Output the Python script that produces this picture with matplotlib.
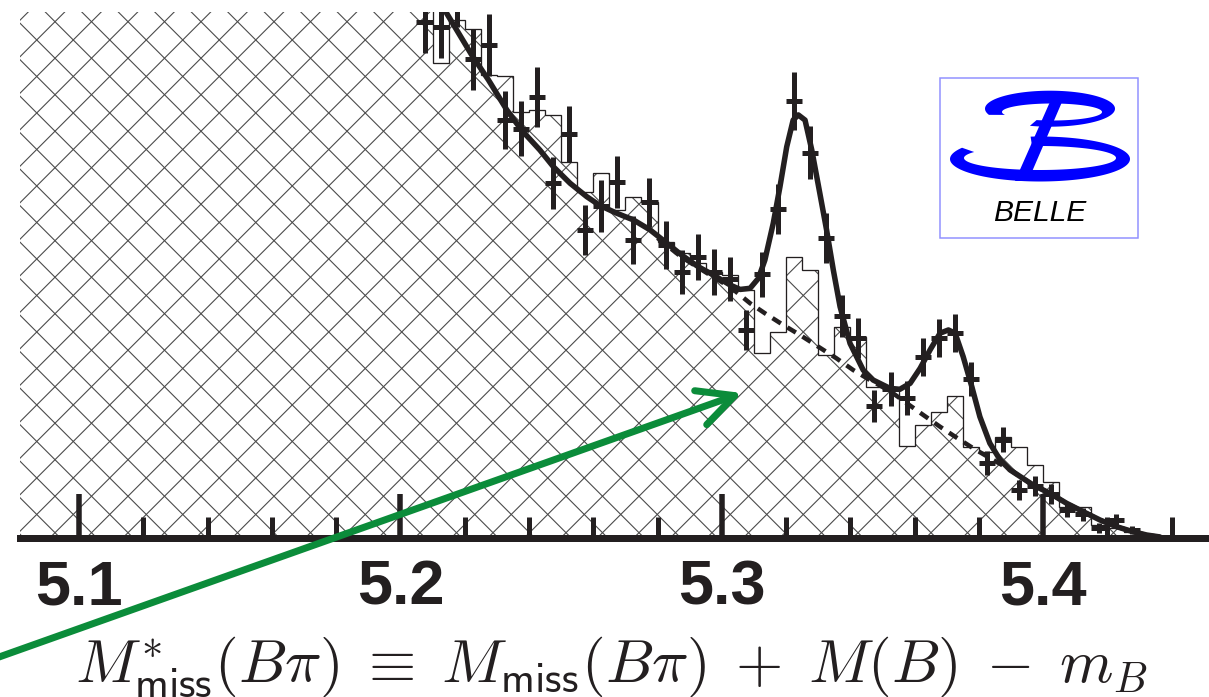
import numpy as np
import matplotlib
matplotlib.use("Agg")
import matplotlib.pyplot as plt
import matplotlib.transforms as mtransforms
from matplotlib.patches import Rectangle, Polygon
from matplotlib.collections import LineCollection
from matplotlib.ticker import FixedLocator

DPI = 110
W, H = 1209, 697


def pt(px):
    return px * 72.0 / DPI


# ---------------- data ----------------
bin_lo = 5.075          # GeV, first histogram edge
bin_width = 0.005       # GeV

# MC histogram (events / 5 MeV), bins from 5.075 to 5.440
hist_counts = [560, 548, 536, 524, 512, 500, 488, 476, 465, 454, 443, 432, 421,
               410, 400, 390, 380, 370, 360, 350, 340, 330, 320, 310, 300, 290,
               278,
               247, 269.5, 264.8, 240.9, 240.4, 221.6, 222.7, 220.1, 195.6, 180.1,
               190.0, 170.6, 177.5, 174.7, 153.9, 148.2, 143.0, 138.4, 136.7, 128.9,
               96.1, 107.2, 146.3, 139.3, 95.1, 109.8, 104.4, 78.5, 77.9, 47.8,
               58.6, 65.5, 73.7, 47.1, 44.5, 52.3, 47.3, 37.8, 29.1, 16.0,
               16.0, 6.5, 4.9, 2.9, 1.3, 0.0]

# data points, first bin centre 5.2075
data_first = 5.2075
data_counts = [268.5, 266, 283, 249, 256.5, 217.5, 213, 229.5, 184.5, 210,
               160, 172.5, 185, 155, 174.5, 152.5, 138.5, 146, 138.5, 134.5,
               108, 137, 171, 227.5, 200.5, 156, 115.5, 104, 68.5, 77.5,
               72.5, 94, 104, 106.5, 82.5, 39, 51, 24.5, 27, 22.5,
               14.5, 12, 5, 9, 4]
data_errors = [16, 16.5, 17, 16, 16, 15, 14.5, 15.5, 13.5, 14.5,
               13, 13.5, 13.5, 12.5, 13, 12.5, 11.5, 12, 12, 11.5,
               10.4, 11.5, 13, 15, 14, 13, 11, 10.4, 8.3, 8.9,
               8.9, 9.9, 9.9, 9.9, 8.9, 6.3, 6.3, 5.2, 5.2, 5.2,
               3.6, 3.6, 2.6, 3.5, 2.0]

# total fit curve
fit_mass = [5.2092, 5.2144, 5.2222, 5.2274, 5.2331, 5.2377, 5.2434, 5.2476, 5.2528,
            5.2580, 5.2621, 5.2673, 5.2725, 5.2777, 5.2823, 5.2875, 5.2927, 5.2974,
            5.3026, 5.3057, 5.3088, 5.3114, 5.3134, 5.3160, 5.3181, 5.3202, 5.3222,
            5.3238, 5.3259, 5.3280, 5.3305, 5.3326, 5.3347, 5.3368, 5.3399, 5.3440,
            5.3471, 5.3523, 5.3554, 5.3586, 5.3617, 5.3648, 5.3679, 5.3705, 5.3726,
            5.3751, 5.3778, 5.3803, 5.3834, 5.3866, 5.3897, 5.3969, 5.4021, 5.4073,
            5.4125, 5.4177, 5.4229, 5.4280, 5.4322, 5.4363]
fit_counts = [290, 273.0, 251.3, 238.3, 222.7, 212.2, 201.8, 193.1, 184.5,
              177.5, 172.9, 168.9, 165.4, 160.2, 154.1, 147.1, 141.0, 136.7,
              131.5, 129.2, 129.8, 135.0, 144.5, 163.6, 182.7, 203.5, 217.4,
              220.1, 217.4, 201.8, 179.3, 160.2, 139.3, 120.2, 101.1, 87.2,
              82.0, 77.7, 77.2, 80.3, 88.1, 97.7, 106.4, 108.1, 106.4,
              94.2, 78.5, 62.9, 49.1, 40.4, 35.2, 27.3, 23.0, 17.8,
              13.4, 9.1, 5.6, 3.0, 1.3, 0.3]

# background component of the fit
bkg_mass = [5.2800, 5.2875, 5.2975, 5.3026, 5.3088, 5.3134, 5.3191, 5.3243, 5.3300,
            5.3357, 5.3409, 5.3461, 5.3523, 5.3570, 5.3627, 5.3679, 5.3726, 5.3782,
            5.3834, 5.3881, 5.3897, 5.3969, 5.4021, 5.4073, 5.4125, 5.4177, 5.4229,
            5.4280, 5.4322, 5.4363]
bkg_counts = [156, 146, 135.5, 130.5, 122.0, 116.8, 110.7, 105.5, 99.4,
              93.3, 87.2, 82.0, 76.3, 70.6, 63.8, 57.7, 52.5, 46.5,
              41.4, 36.9, 35.2, 27.3, 23.0, 17.8, 13.4, 9.1, 5.6,
              3.0, 1.3, 0.3]

major_ticks = [5.1, 5.2, 5.3, 5.4]
major_labels = ["5.1", "5.2", "5.3", "5.4"]
minor_ticks = [5.12, 5.14, 5.16, 5.18, 5.22, 5.24, 5.26, 5.28, 5.32, 5.34,
               5.36, 5.38, 5.42, 5.44]

formula = (r"$M^{*}_{\mathsf{miss}}(B\pi)\;\equiv\;M_{\mathsf{miss}}(B\pi)"
           r"\;+\;M(B)\;-\;m_{B}$")
logo_text = "BELLE"

# ---------------- style ----------------
INK = "#231f20"
plt.rcParams["mathtext.fontset"] = "cm"

X0_PX, Y_AXIS_PX, Y_TOP_PX = 20, 537.5, 12
X51_PX, PX_PER_GEV, PX_PER_EVT = 79, 3214.0, 1.92

fig = plt.figure(figsize=(W / DPI, H / DPI), dpi=DPI)
px_tr = mtransforms.Affine2D().scale(1.0 / W, -1.0 / H).translate(0, 1) + fig.transFigure

ax = fig.add_axes([X0_PX / W, (H - Y_AXIS_PX) / H, (W - X0_PX) / W,
                   (Y_AXIS_PX - Y_TOP_PX) / H])
ax.set_xlim(5.1 + (X0_PX - X51_PX) / PX_PER_GEV, 5.1 + (W - X51_PX) / PX_PER_GEV)
ax.set_ylim(0, (Y_AXIS_PX - Y_TOP_PX) / PX_PER_EVT)

edges = bin_lo + bin_width * np.arange(len(hist_counts) + 1)

# cross-hatch: diagonal lines in pixel space, clipped to the histogram area
area = ax.stairs(hist_counts, edges, fill=True, facecolor="none",
                 edgecolor="none", linewidth=0, zorder=0.5)
HATCH_STEP = 36.5
segs = []
for c in np.arange(33.3 - 40 * HATCH_STEP, W + 1, HATCH_STEP):      # x - y = c
    segs.append([(c, 0), (c + H, H)])
for c in np.arange(76.7 - 10 * HATCH_STEP, W + H + HATCH_STEP, HATCH_STEP):  # x + y = c
    segs.append([(c, 0), (c - H, H)])
hatch = LineCollection(segs, colors="#4a4a4a", linewidths=pt(1.1),
                       transform=px_tr, zorder=1)
ax.add_collection(hatch, autolim=False)
hatch.set_clip_path(area)

ax.stairs(hist_counts, edges, color=INK, linewidth=pt(1.3), zorder=2)

data_x = data_first + bin_width * np.arange(len(data_counts))
ax.errorbar(data_x, data_counts, xerr=bin_width / 2, yerr=data_errors, fmt="none",
            ecolor=INK, elinewidth=pt(5), capsize=0, zorder=3)

ax.plot(bkg_mass, bkg_counts, color=INK, linewidth=pt(4.5), dashes=(2.2, 1.7),
        dash_capstyle="butt", zorder=4)
ax.plot(fit_mass, fit_counts, color=INK, linewidth=pt(5.5),
        solid_joinstyle="round", solid_capstyle="round", zorder=5)

for s in ("top", "left", "right"):
    ax.spines[s].set_visible(False)
ax.spines["bottom"].set_linewidth(pt(7))
ax.spines["bottom"].set_color(INK)
ax.spines["bottom"].set_zorder(6)
ax.set_yticks([])
ax.set_xticks(major_ticks)
ax.set_xticklabels(major_labels)
ax.xaxis.set_minor_locator(FixedLocator(minor_ticks))
ax.tick_params(axis="x", which="major", direction="in", length=pt(44.5),
               width=pt(5.5), color=INK, pad=pt(21), labelsize=pt(63),
               labelcolor=INK)
ax.tick_params(axis="x", which="minor", direction="in", length=pt(21.5),
               width=pt(5), color=INK)
for lab in ax.get_xticklabels():
    lab.set_fontfamily("Liberation Sans")
    lab.set_fontweight("bold")
ax.patch.set_facecolor("white")

# ---------------- overlay (pixel coordinates) ----------------
ov = fig.add_axes([0, 0, 1, 1], zorder=10)
ov.set_xlim(0, W)
ov.set_ylim(H, 0)
ov.axis("off")
ov.patch.set_visible(False)

ov.text(611, 681, formula, ha="center", va="baseline", fontsize=pt(61), color=INK)

# logo
ov.add_patch(Rectangle((940, 78), 198, 160, facecolor="white",
                       edgecolor="#9090ff", linewidth=pt(1.5)))

LOGO_BLUE = "#0000ff"


def crescent(cxo, cyo, ao, bo, cxi, cyi, ai, bi, t1, t2, n=160):
    t = np.radians(np.linspace(t1, t2, n))
    outer = np.column_stack([cxo + ao * np.cos(t), cyo - bo * np.sin(t)])
    inner = np.column_stack([cxi + ai * np.cos(t[::-1]), cyi - bi * np.sin(t[::-1])])
    return Polygon(np.vstack([outer, inner]), closed=True, facecolor=LOGO_BLUE,
                   edgecolor="none")


ov.add_patch(crescent(1040, 159, 90, 22.5, 1040, 158, 76, 12, 150, 456))
ov.add_patch(crescent(1050, 108.7, 65, 18, 1052, 112, 50, 8.5, -108, 200))
ov.add_patch(Polygon([(1053, 95), (1065, 95), (1028, 181), (1015, 181)],
                     closed=True, facecolor=LOGO_BLUE, edgecolor="none"))
ov.text(1040, 213, logo_text, ha="center", va="center", fontsize=pt(30),
        fontfamily="Liberation Sans", fontstyle="italic", color="black")

# green arrow
ov.annotate("", xy=(742, 393), xytext=(-60, 678),
            arrowprops=dict(arrowstyle="->", color="#0b8c3a", lw=pt(7),
                            mutation_scale=pt(90), shrinkA=0, shrinkB=0),
            annotation_clip=False)

fig.savefig("out.png", dpi=DPI)
